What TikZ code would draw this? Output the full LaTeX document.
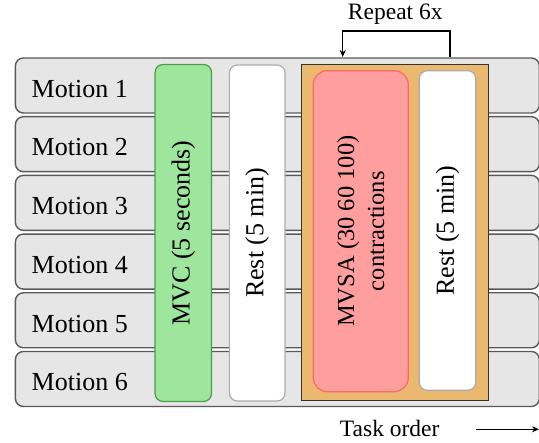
\documentclass[tikz,border=0pt]{standalone}
\usepackage{fontspec}
\setmainfont{Liberation Serif}
\usetikzlibrary{arrows.meta}
\definecolor{rowfill}{HTML}{E6E6E6}
\definecolor{rowline}{HTML}{595959}
\definecolor{grfill}{HTML}{9EE59D}
\definecolor{grline}{HTML}{4A9E48}
\definecolor{orfill}{HTML}{EAB96F}
\definecolor{orline}{HTML}{333333}
\definecolor{rdfill}{HTML}{FF9E9E}
\definecolor{rdline}{HTML}{FF6666}
\definecolor{wtline}{HTML}{ABABAB}
\tikzset{
  rowbox/.style={draw=rowline, fill=rowfill, line width=1.4pt, rounded corners=8pt,
    minimum width=524pt, minimum height=55pt, anchor=north west, inner sep=0pt},
  motion/.style={anchor=base west, font=\fontsize{26}{30}\selectfont, inner sep=0pt},
  vbox/.style={rotate=90, inner sep=0pt, align=center, line width=1.2pt,
    font=\fontsize{26}{30}\selectfont},
  greenbox/.style={vbox, draw=grline, fill=grfill, rounded corners=8pt},
  whitebox/.style={vbox, draw=wtline, fill=white, rounded corners=8pt},
  redbox/.style={vbox, draw=rdline, fill=rdfill, rounded corners=14pt,
    font=\fontsize{24.5}{30}\selectfont},
  orangebox/.style={draw=orline, fill=orfill, line width=1.4pt, inner sep=0pt},
  lbl/.style={font=\fontsize{23.5}{28}\selectfont, inner sep=0pt},
  conn/.style={line width=1.4pt, -{Stealth[length=7pt,width=6pt]}},
}
\begin{document}
\begin{tikzpicture}[x=1pt,y=1pt]
\useasboundingbox (0,0) rectangle (539,443);
% rows
\foreach \i in {1,...,6}{
  \node[rowbox] (r\i) at (14.7, {443-57.3-(\i-1)*58.7}) {};
  \node[motion] (m\i) at (31.5, {443-97.3-(\i-1)*58.7}) {Motion \i};
}
% boxes
\node[greenbox, minimum width=337pt, minimum height=56.5pt] (mvc) at (183.3, {443-233}) {MVC (5 seconds)};
\node[whitebox, minimum width=336pt, minimum height=55.7pt] (rest1) at (257.2, {443-233}) {Rest (5 min)};
\node[orangebox, minimum width=186.6pt, minimum height=336pt] (rep) at (395, {443-232.3}) {};
\node[redbox, minimum width=321pt, minimum height=95pt] (mvsa) at (360.8, {443-231.2}) {MVSA (30 60 100)\\contractions};
\node[whitebox, minimum width=319.6pt, minimum height=56.4pt] (rest2) at (447.5, {443-230.5}) {Rest (5 min)};
% repeat arrow
\coordinate (rs) at (450, {443-57});
\coordinate (re) at (342.7, {443-57});
\coordinate (rt) at (396, {443-31});
\draw[conn] (rs) |- (rt) -| (re);
\node[lbl] (replbl) at (395.3, {443-14}) {Repeat 6x};
% task order
\node[lbl, anchor=base] (task) at (389.7, {443-437}) {Task order};
\coordinate (ts) at (476, {443-429.3});
\coordinate (te) at (539, {443-429.3});
\draw[conn] (ts) -- (te);
\end{tikzpicture}
\end{document}
